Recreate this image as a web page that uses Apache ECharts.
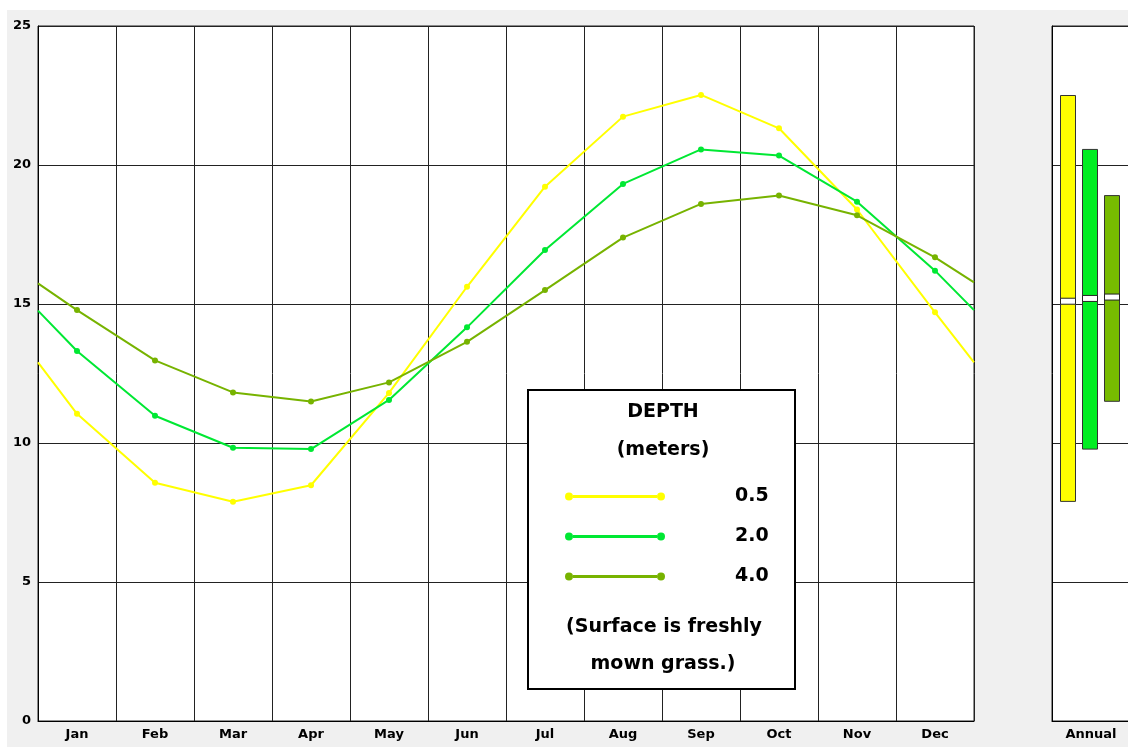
<!DOCTYPE html>
<html>
<head>
<meta charset="utf-8">
<script src="https://cdn.jsdelivr.net/npm/echarts@6/dist/echarts.min.js"></script>
<style>
  html, body { margin: 0; padding: 0; background: #ffffff; overflow: hidden; width: 1128px; height: 747px; }
  #chart { position: absolute; left: 7px; top: 10px; width: 1131px; height: 737px; background: #f0f0f0; }
</style>
</head>
<body>
<div id="chart"></div>
<script>
// ---- data ----
const months = ['Jan', 'Feb', 'Mar', 'Apr', 'May', 'Jun', 'Jul', 'Aug', 'Sep', 'Oct', 'Nov', 'Dec'];
const depthNames = ['0.5', '2.0', '4.0'];
const temp05 = [11.05, 8.57, 7.89, 8.48, 11.8, 15.62, 19.22, 21.74, 22.52, 21.32, 18.4, 14.7];
const temp20 = [13.31, 10.98, 9.83, 9.78, 11.55, 14.16, 16.94, 19.32, 20.56, 20.34, 18.68, 16.2];
const temp40 = [14.78, 12.97, 11.82, 11.49, 12.18, 13.64, 15.5, 17.39, 18.6, 18.9, 18.19, 16.68];
const edgeStart = [12.9, 14.76, 15.74];   // line value at the left edge (start of Jan)
const edgeEnd = [12.9, 14.78, 15.78];     // line value at the right edge (end of Dec)
const annualCategory = ['Annual'];
const annualMin = [7.9, 9.78, 11.5];
const annualMax = [22.5, 20.56, 18.9];
const annualMean = [15.1, 15.2, 15.25];
const yMin = 0, yMax = 25, yStep = 5;
const legendTitle = ['DEPTH', '(meters)'];
const legendNote = ['(Surface is freshly', 'mown grass.)'];

// ---- styles ----
const lineColors = ['#ffff00', '#00e833', '#77b300'];
const barColors = ['#ffff00', '#00ee22', '#77bb00'];
const gridColor = '#222222';
const labelFont = { color: '#000', fontWeight: 'bold', fontSize: 13, fontFamily: 'DejaVu Sans' };

const allTemps = [temp05, temp20, temp40];

function buildLine(k) {
  const arr = [{ value: [0, edgeStart[k]], symbol: 'none' }];
  allTemps[k].forEach((v, i) => arr.push({ value: [i + 0.5, v] }));
  arr.push({ value: [months.length, edgeEnd[k]], symbol: 'none' });
  return arr;
}

const chart = echarts.init(document.getElementById('chart'), null, { renderer: 'canvas' });

const legendIcon = 'path://M4,0A4,4,0,1,1,4,8A4,4,0,1,1,4,0Z M8,2.5H92V5.5H8Z M96,0A4,4,0,1,1,96,8A4,4,0,1,1,96,0Z';

const option = {
  backgroundColor: 'transparent',
  animation: false,
  grid: [
    { left: 31, top: 16, width: 936, height: 695, show: true, backgroundColor: '#ffffff', borderColor: gridColor, borderWidth: 1 },
    { left: 1045, top: 16, width: 78, height: 695, show: true, backgroundColor: '#ffffff', borderColor: gridColor, borderWidth: 1 }
  ],
  xAxis: [
    {
      type: 'category', gridIndex: 0, data: months, boundaryGap: true, position: 'bottom',
      axisLine: { show: true, lineStyle: { color: '#000' } },
      axisTick: { show: false },
      axisLabel: Object.assign({ margin: 7, interval: 0 }, labelFont),
      splitLine: { show: true, interval: 0, lineStyle: { color: gridColor, width: 1 } }
    },
    {
      type: 'value', gridIndex: 0, min: 0, max: months.length, show: false
    },
    {
      type: 'category', gridIndex: 1, data: annualCategory, boundaryGap: true,
      axisLine: { show: true, lineStyle: { color: '#000' } },
      axisTick: { show: false },
      axisLabel: Object.assign({ margin: 7 }, labelFont),
      splitLine: { show: false }
    }
  ],
  yAxis: [
    {
      type: 'value', gridIndex: 0, min: yMin, max: yMax, interval: yStep,
      axisLine: { show: true, lineStyle: { color: '#000' } },
      axisTick: { show: false },
      axisLabel: Object.assign({ margin: 7 }, labelFont, { fontSize: 13 }),
      splitLine: { show: true, lineStyle: { color: gridColor, width: 1 } }
    },
    {
      type: 'value', gridIndex: 1, min: yMin, max: yMax, interval: yStep,
      axisLine: { show: true, lineStyle: { color: '#000' } },
      axisTick: { show: false },
      axisLabel: { show: false },
      splitLine: { show: true, lineStyle: { color: gridColor, width: 1 } }
    }
  ],
  legend: {
    show: true,
    orient: 'vertical',
    left: 558,
    top: 477,
    z: 20,
    padding: 0,
    itemWidth: 100,
    itemHeight: 8,
    itemGap: 21,
    icon: legendIcon,
    selectedMode: false,
    data: depthNames,
    textStyle: { color: '#000', fontWeight: 'bold', fontSize: 19, fontFamily: 'DejaVu Sans', padding: [0, 0, 0, 65] }
  },
  graphic: [
    { type: 'rect', left: 520, top: 379, z: 5, shape: { width: 267, height: 299 }, style: { fill: '#ffffff', stroke: '#000', lineWidth: 2 } },
    { type: 'text', x: 656, y: 402, z: 6, style: { text: legendTitle[0], fill: '#000', font: 'bold 19px "DejaVu Sans"', align: 'center', verticalAlign: 'middle' } },
    { type: 'text', x: 656, y: 440, z: 6, style: { text: legendTitle[1], fill: '#000', font: 'bold 19px "DejaVu Sans"', align: 'center', verticalAlign: 'middle' } },
    { type: 'text', x: 657, y: 617, z: 6, style: { text: legendNote[0], fill: '#000', font: 'bold 19px "DejaVu Sans"', align: 'center', verticalAlign: 'middle' } },
    { type: 'text', x: 656, y: 654, z: 6, style: { text: legendNote[1], fill: '#000', font: 'bold 19px "DejaVu Sans"', align: 'center', verticalAlign: 'middle' } }
  ],
  series: depthNames.map((name, k) => ({
    name: name,
    type: 'line',
    xAxisIndex: 1,
    yAxisIndex: 0,
    data: buildLine(k),
    symbol: 'circle',
    symbolSize: 6,
    showSymbol: true,
    color: lineColors[k],
    lineStyle: { color: lineColors[k], width: 2 },
    itemStyle: { color: lineColors[k] },
    z: 2
  })).concat([{
    name: 'annual',
    type: 'custom',
    xAxisIndex: 2,
    yAxisIndex: 1,
    data: depthNames.map((n, k) => [0, annualMin[k], annualMax[k], annualMean[k], k]),
    encode: { x: 0, y: [1, 2, 3] },
    renderItem: function (params, api) {
      const k = api.value(4);
      const center = api.coord([api.value(0), api.value(1)])[0];
      const w = 15;
      const cx = center - 1 + (k - 1) * 22;
      const yLo = api.coord([api.value(0), api.value(1)])[1];
      const yHi = api.coord([api.value(0), api.value(2)])[1];
      const yMean = api.coord([api.value(0), api.value(3)])[1];
      return {
        type: 'group',
        children: [
          { type: 'rect', shape: { x: cx - w / 2, y: yHi, width: w, height: yLo - yHi }, style: { fill: barColors[k], stroke: '#333', lineWidth: 1 } },
          { type: 'rect', shape: { x: cx - w / 2, y: yMean - 3, width: w, height: 6 }, style: { fill: '#ffffff', stroke: '#222', lineWidth: 1 } }
        ]
      };
    }
  }])
};

chart.setOption(option);
</script>
</body>
</html>
